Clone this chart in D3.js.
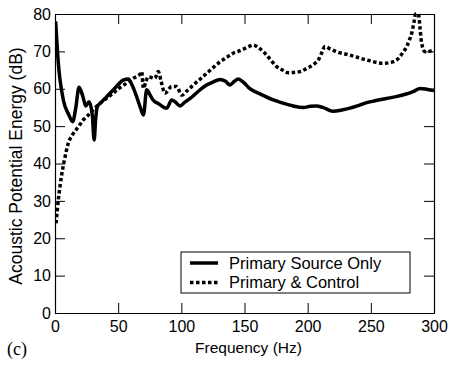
<!DOCTYPE html>
<html>
<head>
<meta charset="utf-8">
<script src="https://cdn.jsdelivr.net/npm/d3@7"></script>
<style>
  body { margin: 0; background: #fff; }
  text { font-family: "Liberation Sans", Arial, sans-serif; }
</style>
</head>
<body>
<div id="chart"></div>
<script>
// chart data
var xTicks = [0, 50, 100, 150, 200, 250, 300];
var yTicks = [0, 10, 20, 30, 40, 50, 60, 70, 80];
var seriesNames = ["Primary Source Only", "Primary & Control"];

// Primary Source Only
var srcFreq = [0.5, 2.6, 6.6, 11, 14, 16.5, 19, 22, 24.3, 27, 29.5, 31, 32.2, 33.5, 37, 41, 47, 54, 58, 61, 64.6, 67.5, 70, 72.6, 75, 77.6, 82, 88.4, 92.4, 95, 99, 103, 107, 113, 120, 125, 130.6, 135, 138.5, 142, 145, 149, 154, 163, 172.8, 180, 188.6, 196.5, 202, 207, 212, 220, 227, 233.5, 240, 246.7, 255, 262.5, 270, 278, 284, 289, 295, 300];
var srcDb = [78, 67, 57, 53, 51.2, 55, 60.4, 58, 55.4, 56.5, 53, 46.3, 52, 55.2, 56.5, 57.9, 60, 62.3, 62.6, 61, 57.9, 55, 53, 59.7, 58.5, 57, 56, 54.8, 57, 56.5, 55.4, 56.5, 57.4, 59.2, 61, 61.8, 62.5, 62, 61, 62, 62.6, 61.8, 60.1, 58.5, 57, 56.2, 55.4, 55, 55.3, 55.4, 55, 54, 54.3, 54.8, 55.5, 56.3, 56.9, 57.4, 57.9, 58.6, 59.3, 60.1, 59.8, 59.5];

// Primary & Control
var ctlFreq = [0.8, 2.6, 4, 5.3, 7.5, 10.5, 14, 18.5, 22, 26.4, 31, 35.6, 41, 46, 51, 56.7, 62, 67.3, 68.6, 70, 72, 73.9, 79, 81.8, 84, 87, 92.4, 96.3, 100.3, 105, 109.5, 115, 120, 125, 130.6, 136, 141, 145, 149, 153, 157, 161, 165, 170, 175.5, 180, 184.7, 190, 194, 198, 201.8, 205, 208.4, 211, 213.7, 218, 223, 233.5, 246.7, 259.9, 265, 270.5, 275, 278.4, 280.5, 282.3, 284, 285.5, 287.6, 289, 290.2, 292.9, 296, 300];
var ctlDb = [24, 30.2, 34, 37, 41, 45.4, 47.8, 49.8, 51.5, 53, 54.6, 56.1, 57.5, 58.8, 60.2, 61.5, 62.8, 63.9, 64.6, 60.1, 62, 63.2, 62.8, 64.6, 62, 58.8, 60.6, 60.6, 58.3, 59.6, 61, 62.6, 64.1, 65.6, 67.2, 68.4, 69.5, 70, 70.6, 71.2, 71.7, 71, 69.9, 68, 65.9, 65, 64.3, 64.4, 64.6, 65.2, 65.9, 66.6, 67.7, 69.5, 71.3, 70.6, 69.9, 69, 67.7, 66.8, 67, 67.7, 69.5, 71.3, 73, 74.8, 77.5, 80, 80, 76, 72.2, 69.9, 70, 70.4];

var w = 450,
    h = 365,
    padLeft = 55,
    padRight = 434,
    padTop = 14,
    padBottom = 313,
    tickLen = 10;

var xScale = d3.scaleLinear().domain([0, 300]).range([padLeft, padRight]);
var yScale = d3.scaleLinear().domain([0, 80]).range([padBottom, padTop]);

var svg = d3.select("#chart")
    .append("svg")
    .attr("width", w)
    .attr("height", h);

var srcData = srcFreq.map(function (f, i) { return [f, srcDb[i]]; });
var ctlData = ctlFreq.map(function (f, i) { return [f, ctlDb[i]]; });

var line = d3.line()
    .x(function (d) { return xScale(d[0]); })
    .y(function (d) { return yScale(d[1]); })
    .curve(d3.curveMonotoneX);

svg.append("defs").append("clipPath").attr("id", "clip")
    .append("rect")
    .attr("x", padLeft).attr("y", padTop - 2)
    .attr("width", padRight - padLeft).attr("height", padBottom - padTop + 2);

var plot = svg.append("g").attr("clip-path", "url(#clip)");

plot.append("path")
    .datum(ctlData)
    .attr("d", line)
    .attr("fill", "none")
    .attr("stroke", "#000")
    .attr("stroke-width", 3.5)
    .attr("stroke-dasharray", "3.5,2.5");

plot.append("path")
    .datum(srcData)
    .attr("d", line)
    .attr("fill", "none")
    .attr("stroke", "#000")
    .attr("stroke-width", 3.5)
    .attr("stroke-linejoin", "round");

// axes, ticks pointing inward on all four sides
var xAxisB = d3.axisBottom(xScale).tickValues(xTicks).tickSizeInner(-tickLen).tickSizeOuter(0).tickPadding(8);
var xAxisT = d3.axisTop(xScale).tickValues(xTicks).tickSizeInner(-tickLen).tickSizeOuter(0).tickFormat("");
var yAxisL = d3.axisLeft(yScale).tickValues(yTicks).tickSizeInner(-tickLen).tickSizeOuter(0).tickPadding(4);
var yAxisR = d3.axisRight(yScale).tickValues(yTicks).tickSizeInner(-tickLen).tickSizeOuter(0).tickFormat("");

var axes = [
    [xAxisB, "translate(0," + padBottom + ")"],
    [xAxisT, "translate(0," + padTop + ")"],
    [yAxisL, "translate(" + padLeft + ",0)"],
    [yAxisR, "translate(" + padRight + ",0)"]
];
axes.forEach(function (a) {
    var g = svg.append("g")
        .attr("class", "axis")
        .attr("transform", a[1])
        .call(a[0]);
    g.selectAll("path").attr("stroke", "#000").attr("stroke-width", 1.2);
    g.selectAll("line").attr("stroke", "#000").attr("stroke-width", 1);
    g.selectAll("text")
        .attr("font-size", "16px")
        .attr("fill", "#000")
        .style("font-family", "'Liberation Sans', Arial, sans-serif");
});

// axis titles
svg.append("text")
    .attr("x", (padLeft + padRight) / 2 + 4)
    .attr("y", 353)
    .attr("text-anchor", "middle")
    .attr("font-size", "15.5px")
    .text("Frequency (Hz)");

svg.append("text")
    .attr("transform", "translate(22,166) rotate(-90)")
    .attr("text-anchor", "middle")
    .attr("font-size", "17.5px")
    .text("Acoustic Potential Energy (dB)");

svg.append("text")
    .attr("x", 7)
    .attr("y", 355)
    .attr("font-size", "18px")
    .style("font-family", "'Liberation Serif', 'Times New Roman', serif")
    .text("(c)");

// legend
var lg = svg.append("g");
lg.append("rect")
    .attr("x", 181).attr("y", 252)
    .attr("width", 229).attr("height", 41)
    .attr("fill", "#fff")
    .attr("stroke", "#000")
    .attr("stroke-width", 1);

seriesNames.forEach(function (name, i) {
    var yy = 263 + i * 19.5;
    lg.append("line")
        .attr("x1", 190).attr("x2", 218)
        .attr("y1", yy).attr("y2", yy)
        .attr("stroke", "#000")
        .attr("stroke-width", 3.5)
        .attr("stroke-dasharray", i === 1 ? "3.5,2.5" : null);
    lg.append("text")
        .attr("x", 229)
        .attr("y", yy + 5.5)
        .attr("font-size", "16.5px")
        .text(name);
});
</script>
</body>
</html>
